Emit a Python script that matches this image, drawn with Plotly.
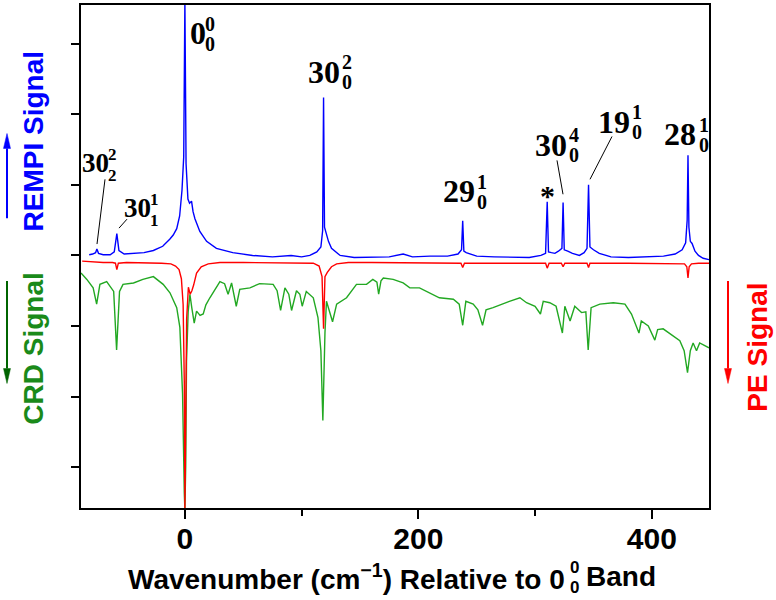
import plotly.graph_objects as go

# ---------------- data (arbitrary units) ----------------
rempi_x = [-82, -79, -76.5, -75.4, -74, -70, -64, -60.5, -58.3, -56.5, -52, -44, -35, -27, -19, -13, -10, -7,
           -4.5, -2.5, -1, 0, 1, 2.6, 4, 5.7, 7, 8.6, 12.8, 18.6, 27, 41, 58, 75, 91, 100, 107, 113, 116.5,
           118, 118.8, 119.6, 121.3, 123, 125.6, 130, 133, 145, 160, 175, 187, 195, 210, 225, 234, 237, 238,
           239, 241, 250, 265, 280, 295, 305, 309, 310.4, 311.5, 314, 317, 320, 323, 324, 325, 328, 332, 338,
           342, 344.5, 345.8, 347, 350, 355, 365, 380, 395, 410, 420, 426, 429, 430.3, 431, 431.8, 433, 434.5,
           437, 440, 444, 449]
rempi_y = [0.01, 0.02, 0.04, 0.09, 0.03, 0.01, 0.01, 0.05, 0.31, 0.07, 0.02, 0.03, 0.04, 0.07, 0.13, 0.23, 0.29, 0.38,
           0.56, 0.92, 1.4, 3.62, 1.3, 0.8, 0.74, 0.77, 0.62, 0.52, 0.34, 0.2, 0.1, 0.04, 0.0, -0.02, 0.0, -0.02, 0.0, 0.05, 0.12,
           0.35, 2.24, 0.4, 0.3, 0.2, 0.1, 0.04, 0.0, -0.03, -0.02, -0.02, 0.02, -0.02, -0.01, -0.01, 0.02, 0.08, 0.49,
           0.06, 0.04, -0.01, -0.02, -0.03, -0.03, 0.0, 0.03, 0.76, 0.05, 0.04, 0.03, 0.06, 0.1, 0.75, 0.08, 0.06, 0.03, 0.0,
           0.04, 0.1, 1.0, 0.12, 0.08, 0.03, -0.02, -0.03, -0.02, -0.01, 0.02, 0.08, 0.18, 0.5, 1.42, 0.4, 0.2, 0.17,
           0.06, 0.0, -0.04, -0.06]

pe_x = [-88, -80, -70, -62, -59.5, -58.3, -57, -50, -40, -30, -20, -12, -8, -5, -3, -1.5, -0.5, 0, 0.6, 1.5, 3,
        4.5, 6, 7.5, 10, 14, 20, 30, 50, 80, 100, 110, 115, 117.5, 118.8, 120, 122, 125.6, 130, 140, 160, 200,
        230, 236.5, 238, 239.5, 260, 290, 309, 310.4, 312, 322.5, 324, 325.5, 344.5, 345.8, 347, 380, 420, 428,
        430, 431, 432, 434, 440, 449]
pe_y = [-0.08, -0.09, -0.1, -0.1, -0.11, -0.2, -0.11, -0.1, -0.1, -0.1, -0.11, -0.12, -0.15, -0.2, -0.33, -0.7, -1.8,
        -3.62, -2.0, -0.9, -0.45, -0.55, -0.5, -0.42, -0.25, -0.16, -0.12, -0.1, -0.1, -0.1, -0.1, -0.11, -0.15, -0.3,
        -1.04, -0.3, -0.24, -0.16, -0.12, -0.1, -0.1, -0.1, -0.11, -0.11, -0.17, -0.11, -0.11, -0.11, -0.11, -0.18,
        -0.11, -0.11, -0.16, -0.11, -0.11, -0.17, -0.11, -0.11, -0.11, -0.12, -0.16, -0.32, -0.16, -0.12, -0.11, -0.11]

crd_x = [-89, -84, -78.6, -75.6, -72.8, -67, -61, -58.5, -56, -53, -44, -36, -27, -18.6, -12.8, -7, -4.3, -2, -0.5,
         0, 0.7, 1.4, 2.8, 4.3, 6, 8, 10, 13, 15.7, 18, 21.4, 30, 34, 37, 40, 44, 47, 55.7, 64, 75.6, 79, 82, 85.7,
         89, 91.4, 95.6, 98.5, 100.5, 104, 110, 114, 116.5, 118.2, 120, 121.3, 124, 126.5, 130, 138.5, 147, 155.6,
         161, 164.5, 166, 168, 170, 178.4, 187, 192.7, 201, 210, 218, 230, 235, 238, 240.7, 247, 251, 255, 258,
         264, 270, 278, 287, 292.7, 300, 304.6, 307, 312.6, 318, 323.4, 325.5, 330, 334, 339.8, 343.5, 345.5,
         348, 355.5, 367, 377, 382.6, 387, 389, 391, 397, 402.6, 405, 409.7, 418, 424, 427.7, 430.6, 433, 435.4,
         438.3, 441, 449]
crd_y = [-0.25, -0.34, -0.46, -0.69, -0.41, -0.37, -0.51, -1.34, -0.51, -0.41, -0.39, -0.34, -0.3, -0.41, -0.53, -0.74,
         -1.02, -1.96, -3.37, -3.6, -3.0, -1.5, -0.8, -0.55, -0.75, -0.96, -0.79, -0.85, -0.83, -0.7, -0.6, -0.37, -0.4,
         -0.55, -0.39, -0.72, -0.48, -0.46, -0.4, -0.41, -0.5, -0.78, -0.46, -0.55, -0.78, -0.5, -0.55, -0.72, -0.51,
         -0.6, -0.88, -1.35, -2.34, -1.1, -0.65, -0.79, -0.94, -0.69, -0.6, -0.41, -0.41, -0.34, -0.38, -0.55, -0.36,
         -0.32, -0.34, -0.39, -0.46, -0.46, -0.53, -0.6, -0.62, -0.69, -0.99, -0.65, -0.69, -0.77, -0.99, -0.77, -0.74,
         -0.7, -0.65, -0.6, -0.67, -0.72, -0.83, -0.65, -0.67, -0.72, -1.1, -0.72, -0.93, -0.72, -0.81, -0.8, -1.34,
         -0.74, -0.69, -0.67, -0.69, -0.83, -1.02, -1.1, -0.93, -1.0, -1.2, -1.05, -1.04, -1.14, -1.21, -1.35, -1.66,
         -1.35, -1.24, -1.35, -1.24, -1.31]

x_tickvals = [0, 200, 400]
x_ticktext = ["0", "200", "400"]
y_tickvals = [-3, -2, -1, 0, 1, 2, 3]

# ---------------- layout geometry ----------------
W, H = 776, 600
L, R, T, B = 81, 67, 3, 92
XR = [-89, 449]
YR = [-3.58, 3.55]


def xd(px):
    return XR[0] + (px - L) / (W - L - R) * (XR[1] - XR[0])


def yd(py):
    return YR[1] - (py - T) / (H - T - B) * (YR[1] - YR[0])


def xp(px):
    return (px - L) / (W - L - R)


def yp(py):
    return (H - B - py) / (H - T - B)


GREEN = "#22a822"
fig = go.Figure()
fig.add_trace(go.Scatter(x=crd_x, y=crd_y, mode="lines", line=dict(color=GREEN, width=1.4), name="CRD"))
fig.add_trace(go.Scatter(x=pe_x, y=pe_y, mode="lines", line=dict(color="#ff0000", width=1.4), name="PE"))
fig.add_trace(go.Scatter(x=rempi_x, y=rempi_y, mode="lines", line=dict(color="#0000ff", width=1.4), name="REMPI"))

ann = []
shapes = []
SERIF = "Liberation Serif"
SANS = "Liberation Sans"

# peak labels: main, sup, sub, center px x, center px y, right edge px, size
labels = [
    ("0", "0", "0", 197.5, 31.5, 203, 32),
    ("30", "2", "0", 323.5, 70, 340, 32),
    ("29", "1", "0", 459, 190, 475, 32),
    ("30", "4", "0", 550.5, 143.5, 567, 32),
    ("19", "1", "0", 614, 120, 630, 32),
    ("28", "1", "0", 679.5, 133, 697, 32),
    ("30", "2", "2", 95.5, 162, 106, 27),
    ("30", "1", "1", 137, 207, 148, 27),
]
for main, sup, sub, cx, cy, rx, size in labels:
    small = round(size * 0.64)
    ann.append(dict(x=xd(cx), y=yd(cy), text=main, showarrow=False, xanchor="center", yanchor="middle",
                    font=dict(family=SERIF, size=size, color="black", weight="bold")))
    dsup = -9.5 if size > 30 else -8.5
    dsub = 10.5 if size > 30 else 12.5
    ann.append(dict(x=xd(rx - 0.5), y=yd(cy + dsup), text=sup, showarrow=False, xanchor="left", yanchor="middle",
                    font=dict(family=SERIF, size=small, color="black", weight="bold")))
    ann.append(dict(x=xd(rx - 0.5), y=yd(cy + dsub), text=sub, showarrow=False, xanchor="left", yanchor="middle",
                    font=dict(family=SERIF, size=small, color="black", weight="bold")))

# asterisk
ann.append(dict(x=xd(547), y=yd(194), text="*", showarrow=False, xanchor="center", yanchor="middle",
                font=dict(family=SERIF, size=30, color="black", weight="bold")))

# leader lines (head px, tail px)
leaders = [((97, 243), (105, 178)), ((119, 227), (127, 218)), ((563, 193), (557, 159)), ((590, 178), (612, 135))]
for (hx, hy), (tx, ty) in leaders:
    shapes.append(dict(type="line", xref="x", yref="y", x0=xd(tx), y0=yd(ty), x1=xd(hx), y1=yd(hy),
                       line=dict(color="black", width=1)))

# side titles
for cx, cy, txt, col in [(33, 140, "REMPI Signal", "#0000ff"), (34, 348, "CRD Signal", "#1a8a1a"),
                         (758, 347, "PE Signal", "#ff0000")]:
    ann.append(dict(x=xp(cx), y=yp(cy), xref="paper", yref="paper", text=txt, textangle=-90,
                    xanchor="center", yanchor="middle", showarrow=False,
                    font=dict(family=SANS, size=28, color=col, weight="bold")))

# arrows beside titles: head px (x, y), tail px y, colour
for hx, hy, ty, col in [(7, 132, 217, "#0000ff"), (7, 383, 280, "#006400"), (728, 383, 280, "#ff0000")]:
    d = 1 if ty > hy else -1          # direction from head to tail
    base = hy + d * 15
    shapes.append(dict(type="line", xref="paper", yref="paper", x0=xp(hx), y0=yp(ty), x1=xp(hx), y1=yp(base),
                       line=dict(color=col, width=2)))
    path = "M {:.5f},{:.5f} L {:.5f},{:.5f} L {:.5f},{:.5f} Z".format(
        xp(hx), yp(hy), xp(hx - 3.5), yp(base), xp(hx + 3.5), yp(base))
    shapes.append(dict(type="path", xref="paper", yref="paper", path=path, fillcolor=col,
                       line=dict(color=col, width=0.5)))

# x-axis title with stacked 0/0
TY = 577
ann.append(dict(x=xp(567), y=yp(TY), xref="paper", yref="paper", xanchor="right", yanchor="middle",
                text="Wavenumber (cm<sup>\u22121</sup>) Relative to 0", showarrow=False,
                font=dict(family=SANS, size=28, color="black", weight="bold")))
ann.append(dict(x=xp(568), y=yp(TY - 9), xref="paper", yref="paper", xanchor="left", yanchor="middle",
                text="0", showarrow=False, font=dict(family=SANS, size=17, color="black", weight="bold")))
ann.append(dict(x=xp(568), y=yp(TY + 11), xref="paper", yref="paper", xanchor="left", yanchor="middle",
                text="0", showarrow=False, font=dict(family=SANS, size=17, color="black", weight="bold")))
ann.append(dict(x=xp(584), y=yp(TY), xref="paper", yref="paper", xanchor="left", yanchor="middle",
                text="Band", showarrow=False, font=dict(family=SANS, size=28, color="black", weight="bold")))

fig.update_layout(
    width=W, height=H, margin=dict(l=L, r=R, t=T, b=B, pad=0),
    paper_bgcolor="white", plot_bgcolor="white", showlegend=False, hovermode=False,
    annotations=ann, shapes=shapes,
    xaxis=dict(range=XR, tickvals=x_tickvals, ticktext=x_ticktext, ticks="outside", ticklen=9, tickwidth=2,
               tickcolor="black", showline=True, linewidth=2, linecolor="black", mirror=True, showgrid=False,
               zeroline=False, ticklabelstandoff=-6,
               tickfont=dict(family=SANS, size=30, color="black", weight="bold"),
               minor=dict(tickvals=[100, 300], ticks="outside", ticklen=6, tickwidth=2, tickcolor="black")),
    yaxis=dict(range=YR, tickvals=y_tickvals, showticklabels=False, ticks="outside", ticklen=8, tickwidth=2,
               tickcolor="black", showline=True, linewidth=2, linecolor="black", mirror=True, showgrid=False,
               zeroline=False),
)
fig.write_html("out.html")
